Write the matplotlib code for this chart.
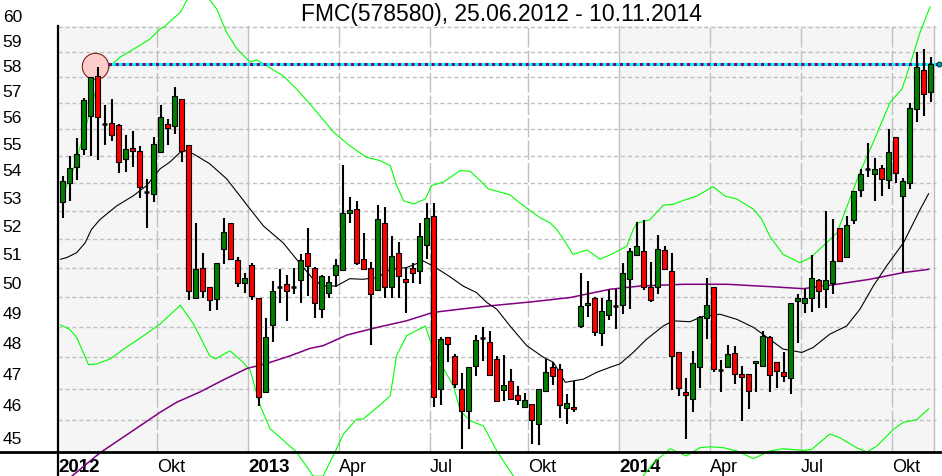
import matplotlib
matplotlib.use('Agg')
import matplotlib.pyplot as plt
import numpy as np
from matplotlib.ticker import NullFormatter

plt.rcParams['font.family'] = ['Liberation Sans', 'DejaVu Sans']

title = 'FMC(578580), 25.06.2012 - 10.11.2014'

# weekly candles (week index 0 = 25.06.2012)
opens = [52.83, 53.5, 54.09, 54.75, 56.0, 57.56, 55.7, 55.73, 55.65, 54.38,
         54.79, 54.68, 53.17, 53.11, 54.64, 55.69, 55.64, 56.67, 54.91, 49.48,
         50.5, 49.82, 49.42, 51.13, 52.07, 50.76, 49.99, 50.58, 49.48, 46.39,
         48.56, 49.84, 49.93, 49.84, 50.07, 51.02, 50.5, 49.09, 49.65, 50.24,
         50.42, 52.43, 52.57, 50.81, 50.5, 49.73, 52.07, 49.85, 51.0, 50.1,
         50.5, 50.39, 51.3, 52.31, 46.49, 48.18, 47.55, 46.49, 45.8, 47.21,
         48.13, 48.01, 47.45, 46.44, 46.73, 46.3, 45.91, 46.01, 45.38, 46.42,
         47.18, 47.14, 45.88, 45.91, 48.53, 49.22, 49.48, 48.29, 48.91, 49.18,
         49.22, 50.1, 50.95, 51.06, 49.85, 49.85, 51.11, 50.39, 47.66, 46.39,
         46.17, 47.18, 48.8, 49.85, 47.09, 47.18, 47.64, 46.98, 46.96, 47.31,
         47.21, 48.15, 47.34, 47.02, 46.84, 49.35, 49.29, 49.45, 50.08, 49.78,
         49.99, 51.87, 50.88, 52.16, 53.23, 54.02, 53.84, 54.05, 53.62, 55.2,
         53.04, 53.51, 56.28, 57.8, 56.92]
highs = [53.75, 54.49, 55.16, 56.7, 57.53, 57.9, 56.43, 56.67, 55.7, 55.29,
         55.43, 54.87, 53.66, 55.21, 56.43, 55.89, 57.13, 56.67, 54.91, 52.05,
         51.0, 49.82, 50.67, 52.25, 52.07, 50.88, 50.31, 50.67, 49.48, 48.81,
         50.04, 50.44, 50.24, 50.5, 50.96, 51.87, 50.52, 50.25, 50.22, 50.79,
         54.17, 53.0, 52.86, 51.71, 50.7, 52.69, 52.64, 51.6, 51.38, 50.5,
         50.67, 52.05, 52.76, 52.76, 48.18, 48.18, 47.6, 47.0, 47.2, 48.22,
         48.48, 48.37, 47.55, 47.57, 47.12, 46.58, 46.36, 46.02, 46.5, 47.45,
         47.36, 47.28, 46.33, 46.75, 50.31, 50.04, 49.5, 49.48, 49.74, 49.76,
         50.67, 51.19, 52.09, 52.16, 50.71, 51.62, 51.24, 51.02, 47.66, 46.83,
         47.71, 48.87, 50.16, 49.85, 47.41, 47.89, 47.87, 47.23, 46.96, 47.37,
         48.37, 48.2, 47.34, 47.66, 49.31, 49.59, 49.78, 50.92, 50.1, 52.5,
         52.19, 51.9, 52.31, 53.21, 54.02, 54.99, 54.42, 54.17, 55.51, 55.2,
         53.68, 56.51, 58.52, 58.63, 58.3]
lows = [52.23, 52.86, 53.6, 54.55, 54.51, 54.35, 54.92, 55.04, 53.87, 53.89,
        54.08, 52.96, 51.88, 52.83, 54.63, 54.92, 55.33, 54.26, 49.39, 49.48,
        49.46, 49.03, 49.07, 50.61, 50.79, 49.85, 49.62, 49.4, 45.96, 46.39,
        47.99, 49.29, 48.7, 49.59, 49.29, 49.53, 48.78, 48.8, 49.48, 49.82,
        50.42, 52.05, 50.6, 50.45, 47.89, 49.73, 49.45, 49.48, 49.48, 48.97,
        49.97, 49.94, 50.81, 45.93, 45.99, 47.36, 46.51, 44.63, 45.22, 46.91,
        47.39, 46.94, 46.1, 46.12, 46.17, 45.99, 45.91, 44.77, 44.73, 46.42,
        46.6, 45.56, 45.38, 45.75, 48.45, 48.83, 48.19, 47.88, 48.74, 48.43,
        48.92, 49.09, 50.9, 49.74, 49.33, 49.59, 50.44, 46.44, 46.26, 44.94,
        45.77, 46.51, 48.09, 47.02, 46.39, 47.18, 46.65, 45.49, 45.86, 46.4,
        47.21, 46.39, 46.51, 46.72, 46.33, 47.96, 48.97, 48.99, 49.14, 49.13,
        49.59, 50.7, 50.88, 52.01, 53.0, 53.72, 52.86, 53.04, 53.27, 53.5,
        50.35, 53.27, 55.79, 56.0, 56.56]
closes = [53.57, 54.05, 54.56, 56.62, 57.52, 55.96, 55.7, 55.29, 54.27, 54.75,
          54.68, 53.35, 53.17, 54.94, 55.96, 55.54, 56.77, 54.7, 49.7, 50.44,
          49.7, 49.39, 50.67, 51.74, 50.79, 49.99, 50.13, 49.53, 46.23, 48.15,
          49.7, 49.84, 49.7, 49.84, 50.76, 50.56, 49.29, 50.22, 50.01, 50.58,
          52.43, 52.52, 50.67, 50.47, 49.59, 52.21, 49.85, 50.9, 50.22, 50.02,
          50.33, 51.59, 52.25, 46.23, 48.09, 47.93, 46.65, 45.8, 47.18, 48.06,
          48.13, 46.94, 46.1, 46.62, 46.17, 46.14, 46.13, 45.51, 46.49, 47.02,
          46.89, 45.98, 46.04, 45.86, 49.2, 49.29, 48.32, 49.03, 49.4, 49.18,
          50.3, 51.06, 51.24, 49.82, 49.4, 51.16, 50.44, 47.55, 46.51, 46.31,
          47.33, 48.83, 49.23, 47.14, 47.09, 47.6, 46.96, 46.86, 46.42, 47.37,
          48.2, 46.94, 47.07, 46.91, 49.31, 49.48, 49.48, 50.13, 49.7, 50.08,
          50.73, 50.73, 52.0, 53.21, 53.84, 54.02, 54.0, 53.66, 54.64, 53.88,
          53.56, 56.31, 57.92, 56.85, 58.03]

# moving average (black)
ma_weeks = [-0.3, 0.6, 2.0, 3.2, 4.1, 5.3, 7.7, 10.1, 12.0, 13.9,
            15.3, 16.8, 17.5, 18.7, 21.0, 23.4, 25.3, 26.8, 28.7, 31.5,
            33.4, 35.8, 37.2, 39.1, 41.0, 42.9, 44.9, 46.8, 49.1, 51.5,
            52.9, 55.3, 57.2, 59.1, 60.6, 62.0, 63.9, 66.3, 68.7, 70.1,
            71.8, 74.4, 76.3, 78.2, 79.6, 81.5, 83.4, 85.8, 87.2, 89.6,
            91.5, 93.9, 96.3, 98.7, 101.0, 102.9, 105.6, 107.2, 109.6, 112.0,
            113.9, 115.8, 117.7, 120.1, 122.5, 123.7]
ma_vals = [50.79, 50.85, 51.02, 51.36, 51.83, 52.18, 52.67, 53.04, 53.41, 54.02,
           54.27, 54.64, 54.7, 54.57, 54.21, 53.66, 53.04, 52.55, 51.95, 51.36,
           50.79, 50.1, 49.87, 49.87, 50.12, 50.1, 50.16, 50.44, 50.5, 50.73,
           50.56, 50.19, 49.87, 49.65, 49.31, 49.09, 48.53, 47.88, 47.5, 47.34,
           46.7, 46.8, 47.02, 47.18, 47.29, 47.66, 48.09, 48.53, 48.7, 48.67,
           48.85, 48.92, 48.75, 48.48, 48.09, 47.77, 47.66, 47.82, 48.26, 48.53,
           49.09, 49.87, 50.56, 51.36, 52.55, 53.11]

# long moving average (purple)
long_weeks = [1.3, 5.3, 13.9, 16.3, 19.6, 22.9, 26.3, 29.1, 32.5, 35.3,
              37.2, 40.6, 44.9, 49.1, 52.9, 56.8, 61.0, 66.8, 72.5, 78.2,
              82.5, 88.7, 94.9, 101.0, 105.8, 110.6, 115.3, 120.1, 123.7]
long_vals = [43.8, 44.5, 45.75, 46.07, 46.39, 46.77, 47.14, 47.3, 47.55, 47.79,
             47.88, 48.23, 48.48, 48.7, 48.98, 49.09, 49.2, 49.33, 49.48, 49.76,
             49.87, 49.93, 49.93, 49.85, 49.78, 49.93, 50.1, 50.33, 50.44]

# bollinger bands (green)
up_weeks = [0.3, 1.8, 3.2, 4.6, 5.3, 6.8, 8.2, 10.6, 12.5, 13.9,
            14.4, 16.8, 17.7, 18.6, 20.3, 22.0, 23.4, 24.9, 26.8, 27.7,
            28.7, 31.5, 33.4, 35.3, 36.3, 38.7, 41.0, 43.4, 45.3, 46.8,
            47.7, 48.7, 50.1, 51.8, 52.7, 54.4, 56.8, 58.2, 59.6, 60.8,
            62.5, 63.9, 64.9, 66.5, 68.2, 69.6, 70.6, 71.5, 72.9, 74.9,
            76.8, 78.7, 80.6, 81.5, 82.0, 83.9, 85.8, 87.2, 88.7, 90.6,
            92.9, 94.6, 96.3, 98.7, 99.9, 101.0, 102.9, 105.3, 106.8, 109.1,
            110.6, 113.9, 115.8, 118.2, 119.9, 121.0, 122.5, 123.9]
up_vals = [53.24, 54.2, 55.51, 56.85, 57.43, 57.96, 58.3, 58.7, 59.03, 59.43,
           59.5, 60.11, 60.59, 60.88, 60.88, 60.25, 59.3, 58.63, 58.1, 58.2,
           58.03, 57.56, 57.05, 56.47, 56.16, 55.39, 54.88, 54.45, 54.33, 54.14,
           53.41, 52.86, 52.74, 52.92, 53.41, 53.54, 53.96, 53.93, 53.6, 53.29,
           53.17, 53.07, 52.86, 52.55, 52.25, 52.07, 51.83, 51.5, 50.96, 51.11,
           50.79, 51.0, 51.25, 51.83, 52.05, 52.18, 52.7, 52.73, 52.87, 53.03,
           53.37, 53.03, 52.92, 52.55, 52.18, 51.6, 50.96, 50.67, 50.84, 51.36,
           51.71, 53.9, 55.01, 56.53, 57.05, 57.96, 59.31, 60.33]
lo_weeks = [-0.3, 1.0, 2.0, 3.7, 4.9, 6.8, 8.7, 11.5, 13.9, 16.8,
            18.7, 21.0, 21.8, 23.9, 25.8, 26.8, 28.2, 29.6, 31.5, 33.4,
            35.8, 37.2, 39.1, 40.1, 42.0, 42.9, 45.3, 46.8, 47.7, 49.1,
            51.8, 52.9, 54.4, 55.8, 56.8, 58.2, 60.1, 62.0, 64.4, 71.0,
            79.6, 82.9, 84.4, 86.8, 89.1, 91.0, 92.5, 94.4, 96.3, 98.7,
            101.0, 102.9, 105.8, 107.0, 109.6, 111.0, 113.4, 114.9, 116.3, 118.7,
            120.1, 122.0, 123.7]
lo_vals = [48.56, 48.42, 48.15, 47.26, 47.29, 47.45, 47.77, 48.2, 48.59, 49.22,
           48.59, 47.55, 47.45, 47.71, 47.34, 47.07, 45.97, 45.25, 44.89, 44.53,
           43.8, 43.8, 44.62, 45.08, 45.54, 45.54, 45.97, 46.28, 47.55, 48.2,
           48.53, 47.77, 47.13, 46.6, 45.8, 45.49, 45.33, 44.57, 43.8, 43.1,
           43.1, 43.8, 44.2, 44.63, 44.41, 44.66, 44.69, 44.66, 44.56, 44.33,
           44.56, 44.63, 44.58, 44.61, 45.08, 44.97, 44.66, 44.53, 44.71, 45.23,
           45.44, 45.52, 45.86]

# 2012 high marker and resistance line
peak_week = 4.6
peak_val = 57.96
resist = 58.04
resist_end = 125.2

tick_weeks = [-0.67, 13.5, 26.5, 39.5, 52.5, 66.5, 79.5, 92.5, 105.5, 118.5]
tick_labels = ['2012', 'Okt', '2013', 'Apr', 'Jul', 'Okt', '2014', 'Apr', 'Jul', 'Okt']
year_lines = [26.5, 79.5, 124.5]
quarter_lines = [13.5, 39.5, 52.5, 66.5, 92.5, 105.5, 118.5]
shaded_years = [(-0.67, 26.5), (79.5, 124.5)]

ylo, yhi = 44.53, 60.66
ytop = 59.55
grid_vals = np.arange(45.5, 60, 1.0)
ylabels = np.arange(45, 61)

W, H = 942, 477
fig = plt.figure(figsize=(W / 100, H / 100), dpi=100)
fig.patch.set_facecolor('white')
ax = fig.add_axes([58 / W, 24 / H, (940 - 58) / W, 453 / H])
ax.set_yscale('log')
ax.set_xlim(-0.67, 125.33)
ax.set_ylim(ylo, yhi)
for s in ax.spines.values():
    s.set_visible(False)
ax.set_facecolor('white')

top_frac = np.log(ytop / ylo) / np.log(yhi / ylo)
for x0, x1 in shaded_years:
    ax.axvspan(x0, x1, ymin=0, ymax=top_frac, color='#f5f5f5', lw=0, zorder=0)

ax.hlines(grid_vals, -0.67, 124.8, colors='#c0c0c0', lw=1.0,
          linestyles=(0, (3, 2)), zorder=1)
for xv in year_lines:
    ax.axvline(xv, ymin=0, ymax=top_frac, color='#c0c0c0', lw=1.0, zorder=1)
for xv in quarter_lines:
    ax.axvline(xv, ymin=0, ymax=top_frac, color='#c0c0c0', lw=1.0,
               dashes=(14, 2.2), zorder=1)

# indicator lines
ax.plot(lo_weeks, lo_vals, color='#00ff00', lw=0.8, zorder=2, clip_on=False)
ax.plot(up_weeks, up_vals, color='#00ff00', lw=0.8, zorder=2, clip_on=False)
ax.plot(long_weeks, long_vals, color='#800080', lw=1.1, zorder=2, clip_on=False)
ax.plot(ma_weeks, ma_vals, color='black', lw=0.8, zorder=2)

# resistance line
ax.plot([peak_week, resist_end], [resist, resist], color='#00ffff', lw=2.2,
        zorder=2, clip_on=False, solid_capstyle='butt')
ax.plot([peak_week, resist_end], [resist, resist], color='#800080', lw=2.2,
        dashes=(1, 1.2), zorder=2, clip_on=False)
ax.plot([resist_end], [resist], 'o', ms=3.5, mfc='#00a0a0', mec='#004040',
        mew=0.8, zorder=3, clip_on=False)
ax.plot([peak_week], [peak_val], 'o', ms=19, mfc='#ffcccc', mec='#7a2020',
        mew=0.8, zorder=3)

# candles
x = np.arange(len(opens))
o = np.array(opens)
c = np.array(closes)
ax.vlines(x, lows, highs, color='black', lw=1.5, zorder=4)
body_lo = np.minimum(o, c)
body_h = np.abs(c - o)
cols = ['#008000' if cc > oo else '#ff0000' for oo, cc in zip(o, c)]
mask = body_h > 0
ax.bar(x[mask], body_h[mask], bottom=body_lo[mask], width=0.72,
       color=[cl for cl, m in zip(cols, mask) if m], edgecolor='black',
       linewidth=0.8, zorder=5)
doji = ~mask
ax.hlines(o[doji], x[doji] - 0.36, x[doji] + 0.36, color='black', lw=1.8, zorder=6)

# axes ticks
ax.set_yticks(ylabels, [str(v) for v in ylabels])
ax.set_yticks(grid_vals, minor=True)
ax.yaxis.set_minor_formatter(NullFormatter())
ax.tick_params(axis='y', which='both', length=0, pad=26, labelsize=12.5)
ax.set_ylim(ylo, yhi)

ax.set_xticks(tick_weeks, tick_labels)
ax.tick_params(axis='x', length=0, pad=4, labelsize=13)
for lbl in ax.get_xticklabels():
    lbl.set_ha('left')
    if lbl.get_text().isdigit():
        lbl.set_fontweight('bold')
        lbl.set_fontsize(13.5)

# axis lines
fig.add_artist(plt.Line2D([58 / W, 58 / W], [0, 1 - 27 / H], color='black', lw=1.6))
fig.add_artist(plt.Line2D([0, 940 / W], [24 / H, 24 / H], color='black', lw=2.0))

fig.text(501 / W, 1 - 15 / H, title, ha='center', va='center', fontsize=16.5)

fig.savefig('out.png', dpi=100)
